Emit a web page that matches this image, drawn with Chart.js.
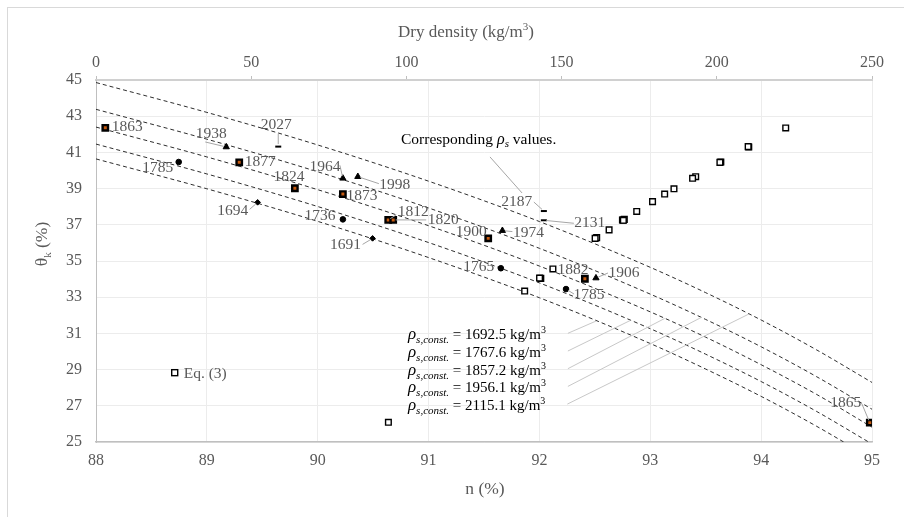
<!DOCTYPE html>
<html>
<head>
<meta charset="utf-8">
<script src="https://cdn.jsdelivr.net/npm/chart.js@4.4.1/dist/chart.umd.min.js"></script>
<style>
  html, body { margin: 0; padding: 0; background: #fff; }
  #wrap { width: 904px; height: 517px; position: relative; }
</style>
</head>
<body>
<div id="wrap"><canvas id="chart" width="904" height="517"></canvas></div>
<script>
// curves for constant particle density (theta_k vs n)
const nGrid = [88, 89, 90, 91, 92, 93, 93.5, 94, 94.5, 95];
const rhoConst = [1692.5, 1767.6, 1857.2, 1956.1, 2115.1];
const theta1692 = [40.64, 38.99, 37.19, 35.19, 32.97, 30.44, 29.03, 27.52, 25.87, 24.07];
const theta1768 = [41.46, 39.81, 38.01, 36.02, 33.79, 31.26, 29.85, 28.34, 26.69, 24.89];
const theta1857 = [42.40, 40.75, 38.94, 36.95, 34.72, 32.19, 30.79, 29.27, 27.63, 25.82];
const theta1956 = [43.38, 41.73, 39.93, 37.93, 35.70, 33.17, 31.77, 30.26, 28.61, 26.81];
const theta2115 = [44.86, 43.21, 41.41, 39.41, 37.18, 34.65, 33.25, 31.74, 30.09, 28.29];

// measured samples, grouped by marker
const orangeN = [88.084, 89.292, 89.794, 90.227, 90.636, 90.681, 91.538, 92.410, 94.980];
const orangeTheta = [42.36, 40.45, 39.02, 38.70, 37.27, 37.27, 36.25, 34.02, 26.07];
const orangeRho = ['1863', '1877', '1824', '1873', '1812', '1820', '1900', '1882', '1865'];

const triangleN = [89.175, 90.227, 90.362, 91.666, 92.510];
const triangleTheta = [41.30, 39.57, 39.66, 36.68, 34.06];
const triangleRho = ['1938', '1964', '1998', '1974', '1906'];

const circleN = [88.746, 90.227, 91.652, 92.240];
const circleTheta = [40.47, 37.30, 34.60, 33.45];
const circleRho = ['1785', '1736', '1765', '1785'];

const diamondN = [89.458, 90.495];
const diamondTheta = [38.24, 36.25];
const diamondRho = ['1694', '1691'];

const dashN = [89.644, 92.040, 92.040];
const dashTheta = [41.32, 37.76, 37.25];
const dashRho = ['2027', '2187', '2131'];

// Eq. (3) against dry density (top axis)
const eq3DryDensity = [222.2, 210.3, 210.1, 201.3, 201.0, 193.2, 192.2, 186.2, 183.2, 179.3, 174.2,
  170.2, 169.8, 169.6, 169.9, 165.3, 161.3, 160.8, 147.2, 143.3, 142.9, 138.1, 94.2];
const eq3Theta = [42.35, 41.30, 41.32, 40.47, 40.45, 39.66, 39.57, 38.99, 38.70, 38.28, 37.74,
  37.30, 37.27, 37.27, 37.25, 36.72, 36.29, 36.25, 34.56, 34.04, 34.06, 33.34, 26.09];

// tick labels
const nTicks = [88, 89, 90, 91, 92, 93, 94, 95];
const dryTicks = [0, 50, 100, 150, 200, 250];
const thetaTicks = [25, 27, 29, 31, 33, 35, 37, 39, 41, 43, 45];

// where each value label sits relative to its marker (px) + optional leader start
const labelSpots = {
  orange: [
    { dx: 22, dy: -1 },
    { dx: 21, dy: 0 },
    { dx: -6, dy: -11 },
    { dx: 19, dy: 2 },
    { dx: 25, dy: -8, lead: [8, -5] },
    { dx: 50, dy: 0, lead: [33, 0] },
    { dx: -17, dy: -6 },
    { dx: -12, dy: -9 },
    { dx: -24, dy: -20, lead: [-8, -19] }
  ],
  triangle: [
    { dx: -15, dy: -13, lead: [-21, -5] },
    { dx: -18, dy: -11, lead: [-3, -13] },
    { dx: 37, dy: 8, lead: [21, 7] },
    { dx: 26, dy: 2, lead: [10, 1] },
    { dx: 28, dy: -5, lead: [12, -5] }
  ],
  circle: [
    { dx: -21, dy: 6 },
    { dx: -23, dy: -3 },
    { dx: -22, dy: -1 },
    { dx: 23, dy: 6, lead: [8, 5] }
  ],
  diamond: [
    { dx: -25, dy: 9, lead: [-8, 7] },
    { dx: -27, dy: 7, lead: [-10, 6] }
  ],
  dash: [
    { dx: -2, dy: -22, lead: [0, -13] },
    { dx: -27, dy: -9, lead: [-10, -9] },
    { dx: 46, dy: 3, lead: [30, 3] }
  ]
};

const serif = '"Liberation Serif", "Times New Roman", serif';
const grey = '#595959';
Chart.defaults.font.family = serif;

const toXY = (xs, ys) => xs.map((v, i) => ({ x: v, y: ys[i] }));

const curveSets = [theta1692, theta1768, theta1857, theta1956, theta2115].map((arr, i) => ({
  label: 'rho ' + rhoConst[i],
  data: toXY(nGrid, arr),
  showLine: true,
  borderColor: '#2e2e2e',
  borderWidth: 1,
  borderDash: [4, 3],
  pointRadius: 0,
  cubicInterpolationMode: 'monotone',
  xAxisID: 'x',
  curve: true
}));

const markerSets = [
  { group: 'orange', names: orangeRho, data: toXY(orangeN, orangeTheta), pointStyle: 'rect', pointRadius: 3.8,
    backgroundColor: '#c55a11', borderColor: '#000', borderWidth: 2.4 },
  { group: 'triangle', names: triangleRho, data: toXY(triangleN, triangleTheta), pointStyle: 'triangle', pointRadius: 3.6,
    backgroundColor: '#000', borderColor: '#000', borderWidth: 1 },
  { group: 'circle', names: circleRho, data: toXY(circleN, circleTheta), pointStyle: 'circle', pointRadius: 2.8,
    backgroundColor: '#000', borderColor: '#000', borderWidth: 1 },
  { group: 'diamond', names: diamondRho, data: toXY(diamondN, diamondTheta), pointStyle: 'rectRot', pointRadius: 2.8,
    backgroundColor: '#000', borderColor: '#000', borderWidth: 1 },
  { group: 'dash', names: dashRho, data: toXY(dashN, dashTheta), pointStyle: 'line', pointRadius: 3,
    backgroundColor: '#000', borderColor: '#000', borderWidth: 2 }
].map(d => Object.assign({ showLine: false, xAxisID: 'x' }, d));

const eq3Set = {
  label: 'Eq. (3)',
  data: toXY(eq3DryDensity, eq3Theta),
  showLine: false,
  xAxisID: 'x2',
  pointStyle: 'rect',
  pointRadius: 4,
  backgroundColor: '#fff',
  borderColor: '#000',
  borderWidth: 1.4
};

function richText(ctx, parts, x, y) {
  let cx = x;
  parts.forEach(p => {
    ctx.font = p.font;
    ctx.fillText(p.t, cx, y + (p.dy || 0));
    cx += ctx.measureText(p.t).width;
  });
  return cx;
}

// y pixel of a drawn curve at a given n (linear between its points)
function curveY(chart, dsIndex, n) {
  const xs = chart.scales.x;
  const px = xs.getPixelForValue(n);
  const pts = chart.getDatasetMeta(dsIndex).data;
  for (let i = 1; i < pts.length; i++) {
    if (pts[i].x >= px) {
      const a = pts[i - 1], b = pts[i];
      return a.y + (b.y - a.y) * (px - a.x) / (b.x - a.x);
    }
  }
  return pts[pts.length - 1].y;
}

const figurePlugin = {
  id: 'figureText',
  beforeDraw(chart) {
    const ctx = chart.ctx;
    ctx.save();
    ctx.fillStyle = '#fff';
    ctx.fillRect(0, 0, chart.width, chart.height);
    ctx.strokeStyle = '#d9d9d9';
    ctx.lineWidth = 1;
    ctx.strokeRect(7.5, 7.5, chart.width, chart.height);
    ctx.restore();
  },
  afterDatasetsDraw(chart) {
    const ctx = chart.ctx;
    const xs = chart.scales.x, ys = chart.scales.y;
    ctx.save();

    // value labels with leaders
    chart.data.datasets.forEach((ds, di) => {
      if (!ds.group) return;
      const spots = labelSpots[ds.group];
      chart.getDatasetMeta(di).data.forEach((pt, i) => {
        const s = spots[i];
        if (!s) return;
        if (s.lead) {
          const sx = pt.x + s.lead[0], sy = pt.y + s.lead[1];
          const len = Math.hypot(sx - pt.x, sy - pt.y) || 1;
          ctx.strokeStyle = '#a6a6a6';
          ctx.lineWidth = 1;
          ctx.beginPath();
          ctx.moveTo(sx, sy);
          ctx.lineTo(pt.x + (sx - pt.x) * 2.5 / len, pt.y + (sy - pt.y) * 2.5 / len);
          ctx.stroke();
        }
        ctx.font = '15.5px ' + serif;
        ctx.fillStyle = grey;
        ctx.textAlign = 'center';
        ctx.textBaseline = 'middle';
        ctx.fillText(ds.names[i], pt.x + s.dx, pt.y + s.dy);
      });
    });

    // "Corresponding rho_s values." note
    ctx.textAlign = 'left';
    ctx.textBaseline = 'alphabetic';
    ctx.fillStyle = '#000';
    richText(ctx, [
      { t: 'Corresponding ', font: '15.5px ' + serif },
      { t: 'ρ', font: 'italic 16px ' + serif },
      { t: 's', font: 'italic 11px ' + serif, dy: 3 },
      { t: ' values.', font: '15.5px ' + serif }
    ], xs.getPixelForValue(90.751), ys.getPixelForValue(41.46));
    ctx.strokeStyle = '#a6a6a6';
    ctx.beginPath();
    ctx.moveTo(xs.getPixelForValue(91.554), ys.getPixelForValue(40.75));
    ctx.lineTo(xs.getPixelForValue(91.843), ys.getPixelForValue(38.76));
    ctx.stroke();

    // rho_s,const legend with leaders to the curves
    const lx = xs.getPixelForValue(90.814);
    const by = ys.getPixelForValue(30.674);
    const targets = [92.51, 92.82, 93.13, 93.46, 93.89];
    const curveIdx = chart.data.datasets.map((d, i) => d.curve ? i : -1).filter(i => i >= 0);
    rhoConst.forEach((rho, i) => {
      const y = by + i * 17.7;
      ctx.fillStyle = '#000';
      const end = richText(ctx, [
        { t: 'ρ', font: 'italic 17px ' + serif, dy: 0 },
        { t: 's,const.', font: 'italic 11px ' + serif, dy: 4 },
        { t: ' = ' + rho.toFixed(1) + ' kg/m', font: '15px ' + serif },
        { t: '3', font: '10px ' + serif, dy: -6 }
      ], lx, y);
      const tx = xs.getPixelForValue(targets[i]);
      const ty = curveY(chart, curveIdx[i], targets[i]);
      ctx.strokeStyle = '#c8c8c8';
      ctx.lineWidth = 1;
      ctx.beginPath();
      ctx.moveTo(end + 22, y - 6);
      ctx.lineTo(tx, ty);
      ctx.stroke();
    });

    // Eq. (3) legend
    const ex = xs.getPixelForValue(88.71), ey = ys.getPixelForValue(28.83);
    ctx.fillStyle = '#fff';
    ctx.strokeStyle = '#000';
    ctx.lineWidth = 1.4;
    ctx.fillRect(ex - 3, ey - 3, 6, 6);
    ctx.strokeRect(ex - 3, ey - 3, 6, 6);
    ctx.fillStyle = grey;
    ctx.font = '15.5px ' + serif;
    ctx.textBaseline = 'middle';
    ctx.fillText('Eq. (3)', ex + 9, ey + 1);
    ctx.restore();
  },
  afterDraw(chart) {
    const ctx = chart.ctx;
    const area = chart.chartArea;
    ctx.save();
    ctx.fillStyle = grey;
    ctx.textBaseline = 'alphabetic';

    // top axis title
    const topParts = [
      { t: 'Dry density (kg/m', font: '17px ' + serif },
      { t: '3', font: '11px ' + serif, dy: -7 },
      { t: ')', font: '17px ' + serif }
    ];
    let w = 0;
    topParts.forEach(p => { ctx.font = p.font; w += ctx.measureText(p.t).width; });
    richText(ctx, topParts, (area.left + area.right) / 2 - 18 - w / 2, 37);

    // bottom axis title
    ctx.font = '17.5px ' + serif;
    ctx.textAlign = 'center';
    ctx.fillText('n (%)', (area.left + area.right) / 2 + 1, 494);

    // y axis title
    ctx.translate(47, 244);
    ctx.rotate(-Math.PI / 2);
    ctx.textAlign = 'left';
    const yParts = [
      { t: 'θ', font: '17.5px ' + serif },
      { t: 'k', font: '11px ' + serif, dy: 4 },
      { t: ' (%)', font: '17.5px ' + serif }
    ];
    w = 0;
    yParts.forEach(p => { ctx.font = p.font; w += ctx.measureText(p.t).width; });
    richText(ctx, yParts, -w / 2, 0);
    ctx.restore();
  }
};

const tickFont = { family: serif, size: 16 };

new Chart(document.getElementById('chart'), {
  type: 'scatter',
  data: { datasets: [eq3Set, ...markerSets, ...curveSets] },
  options: {
    responsive: false,
    animation: false,
    events: [],
    layout: { padding: { left: 0, right: 32, top: 0, bottom: 0 } },
    plugins: { legend: { display: false }, tooltip: { enabled: false } },
    scales: {
      x: {
        type: 'linear', position: 'bottom', min: 88, max: 95,
        afterBuildTicks: s => { s.ticks = nTicks.map(v => ({ value: v })); },
        afterFit: s => { s.height = 75; },
        ticks: { font: tickFont, color: grey, padding: 9 },
        grid: { color: '#ececec', lineWidth: 1, drawTicks: false },
        border: { color: '#bfbfbf', width: 1.5 }
      },
      x2: {
        type: 'linear', position: 'top', min: 0, max: 250,
        afterBuildTicks: s => { s.ticks = dryTicks.map(v => ({ value: v })); },
        afterFit: s => { s.height = 80; },
        ticks: { font: tickFont, color: grey, padding: 4 },
        grid: { drawOnChartArea: false, drawTicks: true, tickLength: 4, color: '#bfbfbf' },
        border: { color: '#d0d0d0', width: 2 }
      },
      y: {
        type: 'linear', position: 'left', min: 25, max: 45,
        afterBuildTicks: s => { s.ticks = thetaTicks.map(v => ({ value: v })); },
        afterFit: s => { s.width = 96; },
        ticks: { font: tickFont, color: grey, padding: 14 },
        grid: { color: '#ececec', lineWidth: 1, drawTicks: false },
        border: { color: '#bfbfbf', width: 1 }
      }
    }
  },
  plugins: [figurePlugin]
});
</script>
</body>
</html>
